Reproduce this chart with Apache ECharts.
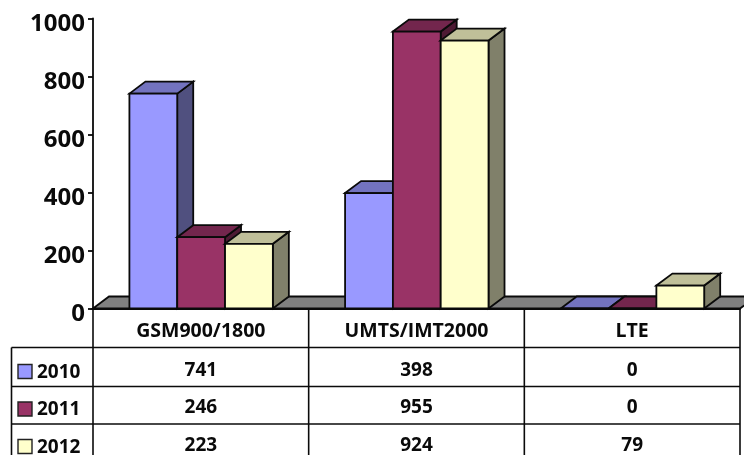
<!DOCTYPE html>
<html>
<head>
<meta charset="utf-8">
<style>html,body{margin:0;padding:0;background:#fff}#chart{width:744px;height:455px}</style>
<script src="https://cdn.jsdelivr.net/npm/echarts@6/dist/echarts.min.js"></script>
</head>
<body>
<div id="chart"></div>
<script>
// Mobile network technologies per year, drawn as a 3D-look column chart with a data table.
const categories = ['GSM900/1800', 'UMTS/IMT2000', 'LTE'];
const years = ['2010', '2011', '2012'];
const values2010 = [741, 398, 0];
const values2011 = [246, 955, 0];
const values2012 = [223, 924, 79];
const yTicks = { min: 0, max: 1000, interval: 200 };

const palette2010 = { front: '#9999FF', top: '#7373BF', side: '#50507F' };
const palette2011 = { front: '#993366', top: '#73264D', side: '#4D1A33' };
const palette2012 = { front: '#FFFFCC', top: '#BFBF99', side: '#80806A' };

const FONT = '"Open Sans"';
const INK = '#0a0a0a';
const DEPTH_X = 16, DEPTH_Y = 12;
const BAR_RATIO = 0.2217;
const GRID = { left: 93, right: 4, top: 18.5, bottom: 146.5 };
const ROW_LINES = [347.5, 386.5, 424];
const ROW_TEXT_Y = [371, 408, 446];
const SWATCH_Y = [364.5, 402, 439.5];

const face = (points, fill) => ({
  type: 'polygon',
  shape: { points },
  style: { fill, stroke: INK, lineWidth: 1.8, lineJoin: 'miter' }
});

// One extruded column: front, top and right-hand faces.
function columnRenderer(seriesIndex, palette) {
  return function (params, api) {
    const cat = api.value(0);
    const band = api.size([1, 0])[0];
    const w = band * BAR_RATIO;
    const top = api.coord([cat, api.value(1)]);
    const base = api.coord([cat, 0]);
    const x0 = top[0] + 0.3 + (seriesIndex - 1.5) * w;
    const x1 = x0 + w;
    const yT = top[1], yB = base[1];
    return {
      type: 'group',
      children: [
        face([[x1, yB], [x1 + DEPTH_X, yB - DEPTH_Y], [x1 + DEPTH_X, yT - DEPTH_Y], [x1, yT]], palette.side),
        face([[x0, yT], [x0 + DEPTH_X, yT - DEPTH_Y], [x1 + DEPTH_X, yT - DEPTH_Y], [x1, yT]], palette.top),
        face([[x0, yT], [x1, yT], [x1, yB], [x0, yB]], palette.front)
      ]
    };
  };
}

// The grey floor the columns stand on.
function floorRenderer(params, api) {
  const cs = params.coordSys;
  const y = cs.y + cs.height, l = cs.x, r = cs.x + cs.width;
  return face([[l, y], [l + DEPTH_X, y - DEPTH_Y], [r + DEPTH_X, y - DEPTH_Y], [r, y]], '#808080');
}

const columnSeries = (name, values, index, palette) => ({
  type: 'custom',
  name,
  data: values.map((v, i) => [i, v]),
  encode: { x: 0, y: 1 },
  renderItem: columnRenderer(index, palette)
});

const chart = echarts.init(document.getElementById('chart'), null, { renderer: 'canvas' });
chart.setOption({
  animation: false,
  backgroundColor: '#fff',
  grid: GRID,
  xAxis: {
    type: 'category',
    data: categories,
    axisLine: { show: true, lineStyle: { color: INK, width: 1.8 } },
    axisTick: { show: false },
    splitLine: { show: false },
    axisLabel: { color: INK, fontFamily: FONT, fontWeight: 'bold', fontSize: 19.5, margin: 13 }
  },
  yAxis: {
    type: 'value',
    min: yTicks.min,
    max: yTicks.max,
    interval: yTicks.interval,
    axisLine: { show: true, lineStyle: { color: INK, width: 1.8 } },
    axisTick: { show: true, length: 5, lineStyle: { color: INK, width: 1.8 } },
    splitLine: { show: false },
    axisLabel: {
      color: INK, fontFamily: FONT, fontWeight: 'bold', fontSize: 24, margin: 8,
      verticalAlign: 'top', lineHeight: 12, formatter: v => String(v)
    }
  },
  series: [
    { type: 'custom', name: 'floor', data: [[0, 0]], encode: { x: 0, y: 1 }, renderItem: floorRenderer, silent: true },
    columnSeries(years[0], values2010, 0, palette2010),
    columnSeries(years[1], values2011, 1, palette2011),
    columnSeries(years[2], values2012, 2, palette2012)
  ]
});

// Data table under the plot, aligned to the category bands.
const rows = [values2010, values2011, values2012];
const swatches = [palette2010.front, palette2011.front, palette2012.front];
const yBase = 455 - GRID.bottom;
const rightEdge = 744 - GRID.right;
const bandWidth = (rightEdge - GRID.left) / categories.length;
const line = (x1, y1, x2, y2) => ({
  type: 'line', shape: { x1, y1, x2, y2 }, style: { stroke: INK, lineWidth: 1.6 }, z: 10
});
const cellText = (text, x, y, align) => ({
  type: 'text', x, y, z: 11,
  style: { text, fill: INK, font: 'bold 19px ' + FONT, align, verticalAlign: 'middle' }
});

const tableParts = [];
ROW_LINES.forEach(y => tableParts.push(line(11.5, y, rightEdge, y)));
[0, 1, 2, 3].forEach(i => {
  const x = GRID.left + i * bandWidth;
  tableParts.push(line(x, yBase, x, 455));
});
tableParts.push(line(11.5, ROW_LINES[0], 11.5, 455));
rows.forEach((row, r) => {
  tableParts.push({
    type: 'rect', z: 11,
    shape: { x: 18, y: SWATCH_Y[r], width: 14, height: 14 },
    style: { fill: swatches[r], stroke: '#222', lineWidth: 1.4 }
  });
  tableParts.push(cellText(years[r], 37, ROW_TEXT_Y[r] + 2, 'left'));
  row.forEach((v, c) => {
    const x = chart.convertToPixel({ xAxisIndex: 0 }, c);
    tableParts.push(cellText(String(v), x, ROW_TEXT_Y[r], 'center'));
  });
});
chart.setOption({ graphic: { elements: tableParts } });
</script>
</body>
</html>
